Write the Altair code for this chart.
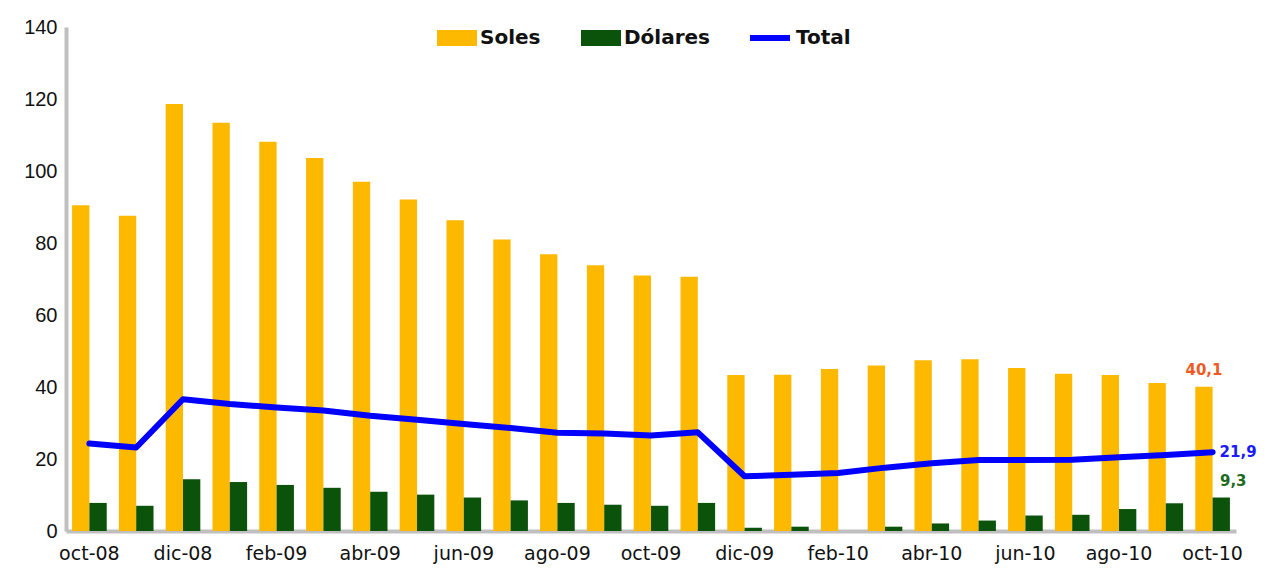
import altair as alt
import pandas as pd

months = ["oct-08", "nov-08", "dic-08", "ene-09", "feb-09", "mar-09", "abr-09", "may-09",
          "jun-09", "jul-09", "ago-09", "sep-09", "oct-09", "nov-09", "dic-09", "ene-10",
          "feb-10", "mar-10", "abr-10", "may-10", "jun-10", "jul-10", "ago-10", "sep-10", "oct-10"]
soles = [90.5, 87.6, 118.6, 113.4, 108.1, 103.6, 97.0, 92.1, 86.3, 81.0, 76.9, 73.8, 71.0,
         70.6, 43.3, 43.4, 45.0, 46.0, 47.4, 47.7, 45.3, 43.7, 43.3, 41.1, 40.1]
dolares = [7.8, 7.0, 14.4, 13.6, 12.8, 12.0, 10.9, 10.1, 9.3, 8.5, 7.8, 7.3, 7.0,
           7.8, 0.9, 1.2, 0.0, 1.2, 2.1, 2.9, 4.3, 4.5, 6.1, 7.7, 9.3]
total = [24.3, 23.2, 36.6, 35.3, 34.3, 33.5, 32.0, 30.9, 29.7, 28.6, 27.3, 27.1, 26.5,
         27.4, 15.2, 15.6, 16.1, 17.6, 18.8, 19.7, 19.7, 19.8, 20.5, 21.1, 21.9]
x_tick_labels = ["oct-08", "dic-08", "feb-09", "abr-09", "jun-09", "ago-09", "oct-09",
                 "dic-09", "feb-10", "abr-10", "jun-10", "ago-10", "oct-10"]
y_ticks = [0, 20, 40, 60, 80, 100, 120, 140]
series_bars = ["Soles", "Dólares"]

ORANGE = "#FDB800"
GREEN = "#0B520B"
BLUE = "#0000FF"

bars_df = pd.DataFrame(
    [{"mes": m, "serie": "Soles", "valor": v} for m, v in zip(months, soles)]
    + [{"mes": m, "serie": "Dólares", "valor": v} for m, v in zip(months, dolares)]
)
line_df = pd.DataFrame({"mes": months, "serie": "Total", "valor": total})
last_df = pd.DataFrame({
    "mes": [months[-1]] * 3,
    "serie": ["Soles", "Dólares", "Total"],
    "valor": [soles[-1], dolares[-1], total[-1]],
})

x_enc = alt.X(
    "mes:N", sort=months,
    scale=alt.Scale(domain=months, paddingInner=0.26, paddingOuter=0.13),
    axis=alt.Axis(
        title=None, values=x_tick_labels, labelAngle=0, ticks=False,
        domainColor="#BFBFBF", domainWidth=4, labelPadding=13,
        labelFont="DejaVu Sans", labelFontSize=19, labelColor="#111111",
    ),
)
y_scale = alt.Scale(domain=[0, 140], nice=False)
y_axis = alt.Axis(
    title=None, values=y_ticks, ticks=False, grid=False,
    domainColor="#BFBFBF", domainWidth=4, labelPadding=9,
    labelFont="Liberation Sans", labelFontSize=20, labelColor="#111111",
)

bars = alt.Chart(bars_df).mark_bar().encode(
    x=x_enc,
    xOffset=alt.XOffset("serie:N", sort=series_bars, scale=alt.Scale(domain=series_bars)),
    y=alt.Y("valor:Q", scale=y_scale, axis=y_axis),
    color=alt.Color(
        "serie:N",
        scale=alt.Scale(domain=series_bars, range=[ORANGE, GREEN]),
        legend=alt.Legend(
            title=None, orient="none", direction="horizontal", legendX=371, legendY=-9,
            symbolType="M-1,-0.4H1V0.4H-1Z", symbolSize=1600, symbolStrokeWidth=0,
            labelFont="DejaVu Sans", labelFontWeight="bold", labelFontSize=20,
            labelColor="#111111", labelOffset=3, columnPadding=40, padding=0,
        ),
    ),
)

line = alt.Chart(line_df).mark_line(strokeWidth=6, strokeCap="round", strokeJoin="round").encode(
    x=alt.X("mes:N", sort=months),
    y=alt.Y("valor:Q", scale=y_scale),
    stroke=alt.Stroke(
        "serie:N",
        scale=alt.Scale(domain=["Total"], range=[BLUE]),
        legend=alt.Legend(
            title=None, orient="none", direction="horizontal", legendX=681, legendY=-12,
            symbolType="stroke", symbolSize=1600, symbolStrokeWidth=6,
            labelFont="DejaVu Sans", labelFontWeight="bold", labelFontSize=20,
            labelColor="#111111", labelOffset=3, padding=0,
        ),
    ),
)

label_base = alt.Chart(last_df).transform_calculate(
    txt="replace(format(datum.valor, '.1f'), '.', ',')"
)
lbl_soles = label_base.transform_filter("datum.serie == 'Soles'").mark_text(
    font="DejaVu Sans", fontWeight="bold", fontSize=15, color="#EE5A24", dy=-17
).encode(
    x=alt.X("mes:N", sort=months),
    xOffset=alt.XOffset("serie:N", sort=series_bars, scale=alt.Scale(domain=series_bars)),
    y=alt.Y("valor:Q", scale=y_scale),
    text="txt:N",
)
lbl_dol = label_base.transform_filter("datum.serie == 'Dólares'").mark_text(
    font="DejaVu Sans", fontWeight="bold", fontSize=15, color="#1E6B1E", dy=-17, dx=12
).encode(
    x=alt.X("mes:N", sort=months),
    xOffset=alt.XOffset("serie:N", sort=series_bars, scale=alt.Scale(domain=series_bars)),
    y=alt.Y("valor:Q", scale=y_scale),
    text="txt:N",
)
lbl_tot = label_base.transform_filter("datum.serie == 'Total'").mark_text(
    font="DejaVu Sans", fontWeight="bold", fontSize=15, color="#1A1AFF", align="left", dx=7
).encode(
    x=alt.X("mes:N", sort=months),
    y=alt.Y("valor:Q", scale=y_scale),
    text="txt:N",
)

chart = alt.layer(bars, line, lbl_soles, lbl_dol, lbl_tot).resolve_scale(
    color="independent", stroke="independent"
).properties(
    width=1170, height=504,
    autosize=alt.AutoSizeParams(type="none"),
    padding={"left": 58, "top": 19, "right": 25, "bottom": 38},
    background="white",
).configure_view(strokeWidth=0)

chart.save("out.html", embed_options={"renderer": "svg", "actions": False})
